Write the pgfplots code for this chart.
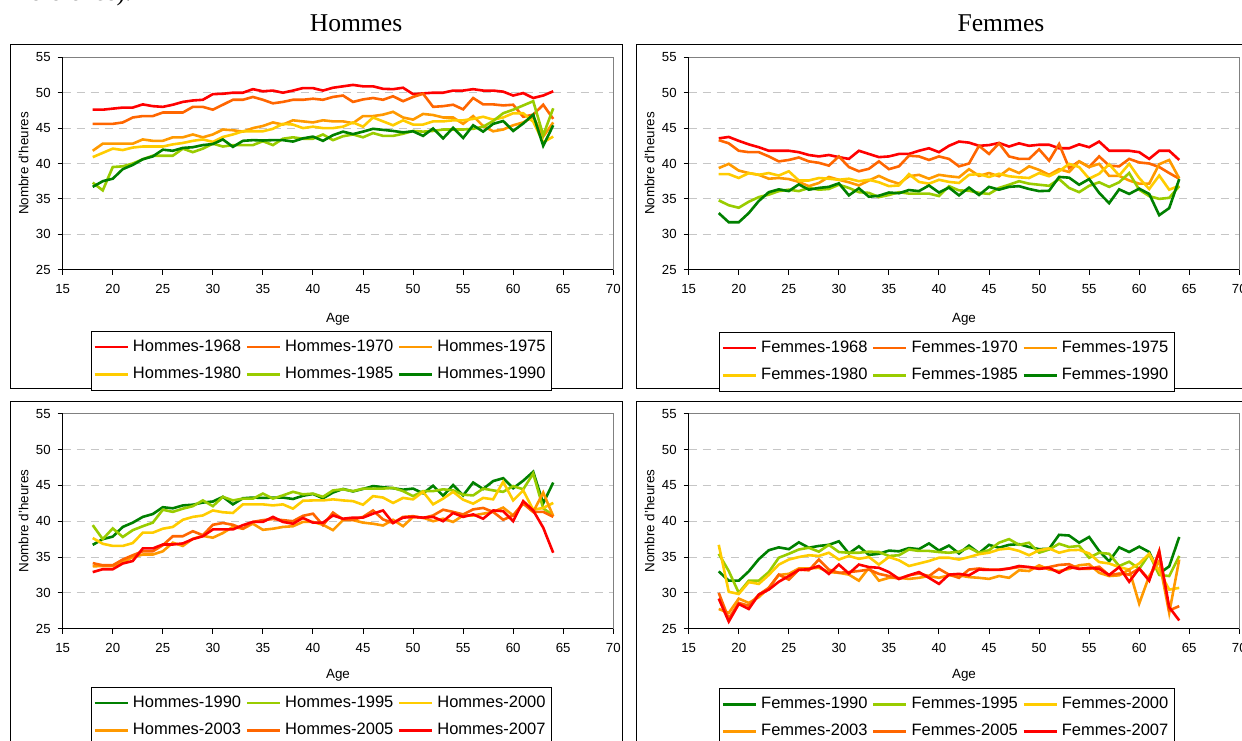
\documentclass[border=0pt]{standalone}
\usepackage{pgfplots}
\pgfplotsset{compat=1.18}
\usepackage{pgfplotstable}
\usepackage{fontspec}
\setmainfont{Liberation Sans}
\newfontfamily\seriffont{Liberation Serif}

\definecolor{cA}{HTML}{FF0000}
\definecolor{cB}{HTML}{FF6600}
\definecolor{cC}{HTML}{FF9900}
\definecolor{cD}{HTML}{FFCC00}
\definecolor{cE}{HTML}{99CC00}
\definecolor{cF}{HTML}{008000}

\pgfplotstableread{
age a68 a70 a75 a80 a85 a90
18 47.6 45.6 41.8 40.9 37.3 36.7
19 47.6 45.6 42.8 41.5 36.2 37.5
20 47.75 45.6 42.8 42.1 39.5 37.85
21 47.9 45.8 42.8 41.9 39.6 39.2
22 47.9 46.5 42.8 42.25 40.0 39.8
23 48.35 46.7 43.4 42.4 40.6 40.6
24 48.1 46.7 43.2 42.4 41.1 41.0
25 48.0 47.2 43.2 42.4 41.1 41.95
26 48.3 47.2 43.7 42.7 41.1 41.8
27 48.7 47.2 43.7 42.9 42.1 42.2
28 48.9 48.0 44.1 43.2 41.6 42.3
29 49.0 48.0 43.7 43.4 42.1 42.6
30 49.8 47.6 44.1 43.05 42.8 42.75
31 49.85 48.3 44.8 43.75 42.4 43.4
32 50.0 49.0 44.7 44.1 42.6 42.35
33 50.0 49.0 44.5 44.55 42.6 43.2
34 50.5 49.4 45.0 44.55 42.6 43.3
35 50.2 49.0 45.3 44.55 43.15 43.25
36 50.3 48.5 45.8 44.9 42.6 43.3
37 50.0 48.7 45.5 45.6 43.5 43.3
38 50.3 49.0 46.1 45.5 43.7 43.1
39 50.65 49.0 45.95 45.0 43.5 43.55
40 50.65 49.15 45.8 45.2 43.5 43.8
41 50.3 49.0 46.1 45.0 44.1 43.2
42 50.7 49.4 45.95 45.0 43.3 44.0
43 50.9 49.6 45.95 45.2 43.85 44.5
44 51.1 48.7 45.7 45.8 44.1 44.15
45 50.9 49.05 46.7 45.2 43.7 44.5
46 50.9 49.25 46.7 46.5 44.3 44.9
47 50.55 49.0 46.9 45.95 43.9 44.75
48 50.5 49.5 47.3 45.4 43.9 44.6
49 50.7 48.8 46.5 46.1 44.2 44.4
50 49.8 49.4 46.2 45.5 44.6 44.55
51 49.9 49.85 47.0 45.5 44.5 43.9
52 50.0 48.0 46.85 45.95 44.6 44.95
53 50.0 48.1 46.5 45.95 44.8 43.55
54 50.3 48.3 46.5 46.1 44.8 45.05
55 50.3 47.65 45.6 46.1 44.8 43.6
56 50.5 49.25 46.7 46.3 44.9 45.4
57 50.3 48.35 45.3 46.6 45.2 44.5
58 50.3 48.35 44.55 46.2 46.0 45.6
59 50.15 48.2 44.8 46.5 47.1 46.0
60 49.6 48.3 45.4 47.1 47.6 44.6
61 49.95 46.6 45.8 47.1 48.2 45.65
62 49.25 46.9 46.6 45.9 48.8 46.9
63 49.6 48.3 43.8 43.0 44.0 42.5
64 50.2 46.3 45.8 43.8 47.8 45.4
}\HA

\pgfplotstableread{
age a68 a70 a75 a80 a85 a90
18 43.55 43.3 39.35 38.5 34.8 33.0
19 43.75 42.85 39.95 38.5 34.1 31.7
20 43.2 41.8 39.0 37.95 33.75 31.7
21 42.7 41.6 38.65 38.65 34.6 33.0
22 42.3 41.6 38.4 38.4 35.25 34.7
23 41.8 41.0 37.85 38.65 35.6 35.95
24 41.8 40.3 37.95 38.3 36.1 36.35
25 41.8 40.5 37.8 38.9 36.3 36.1
26 41.6 40.85 37.4 37.6 36.1 37.05
27 41.2 40.3 36.8 37.6 36.55 36.3
28 41.0 40.1 37.25 37.95 36.3 36.55
29 41.2 39.7 38.1 37.85 36.4 36.7
30 40.9 41.0 37.7 37.7 37.0 37.2
31 40.65 39.5 37.35 37.85 36.55 35.5
32 41.8 38.9 36.9 37.5 35.95 36.5
33 41.35 39.25 37.6 37.7 35.85 35.3
34 40.9 40.3 38.25 37.35 35.25 35.45
35 41.0 39.2 37.6 36.8 35.55 35.9
36 41.35 39.6 37.15 36.9 35.95 35.8
37 41.35 41.1 38.2 38.5 35.75 36.25
38 41.8 41.0 38.4 37.4 35.75 36.1
39 42.15 40.5 37.85 37.15 35.75 36.9
40 41.6 41.0 38.4 37.7 35.4 35.9
41 42.5 40.65 38.2 37.4 36.8 36.6
42 43.1 39.6 38.05 37.25 36.2 35.5
43 42.95 40.0 39.2 38.4 36.15 36.6
44 42.5 42.5 38.25 38.5 35.85 35.55
45 42.6 41.35 38.65 38.1 35.7 36.7
46 42.9 42.85 38.2 38.55 36.55 36.3
47 42.4 41.0 39.25 38.2 37.0 36.7
48 42.85 40.65 38.65 38.05 37.5 36.8
49 42.5 40.65 39.6 37.95 37.15 36.4
50 42.65 42.0 39.1 38.65 37.0 36.1
51 42.65 40.4 38.4 38.2 36.85 36.15
52 42.15 42.75 39.2 38.9 37.8 38.1
53 42.15 39.35 38.8 39.95 36.55 38.0
54 42.7 40.3 40.3 39.5 35.95 37.0
55 42.3 39.5 39.5 37.85 36.85 37.8
56 43.1 41.0 39.95 38.55 37.35 35.85
57 41.8 39.7 38.25 39.9 36.7 34.4
58 41.8 39.6 38.25 38.3 37.35 36.35
59 41.8 40.65 37.6 39.95 38.65 35.7
60 41.6 40.15 37.15 37.95 36.3 36.45
61 40.65 40.0 37.15 36.4 35.4 35.7
62 41.8 39.5 39.9 38.3 35.0 32.7
63 41.8 38.65 40.5 36.3 35.15 33.7
64 40.5 37.85 37.9 36.85 36.8 37.8
}\FA

\pgfplotstableread{
age b90 b95 b00 b03 b05 b07
18 36.7 39.45 37.65 33.7 34.15 32.9
19 37.5 37.5 36.85 33.75 33.85 33.3
20 37.85 39.0 36.55 33.75 33.85 33.3
21 39.2 37.8 36.55 34.3 34.65 34.1
22 39.8 38.75 36.95 35.0 35.25 34.45
23 40.6 39.3 38.4 35.35 35.8 36.2
24 41.0 39.8 38.4 35.35 35.8 36.2
25 41.95 41.6 38.95 35.8 36.65 36.75
26 41.8 41.3 39.2 37.0 37.9 36.75
27 42.2 41.75 40.2 36.55 37.9 36.9
28 42.3 42.1 40.6 37.55 38.6 37.5
29 42.6 42.9 40.8 37.95 38.05 37.9
30 42.75 42.1 41.5 37.7 39.5 38.85
31 43.4 43.4 41.25 38.35 39.75 38.85
32 42.35 42.9 41.15 39.2 39.5 38.85
33 43.2 43.15 42.35 38.95 38.95 39.45
34 43.3 43.15 42.35 39.65 39.9 39.9
35 43.25 43.85 42.35 38.8 40.15 39.9
36 43.3 43.15 42.2 38.95 40.3 40.6
37 43.3 43.6 42.35 39.2 40.15 39.9
38 43.1 44.1 41.75 39.3 40.0 39.65
39 43.55 43.75 42.85 39.9 40.75 40.45
40 43.8 43.85 42.9 39.9 41.05 39.8
41 43.2 43.4 42.9 39.5 39.45 39.8
42 44.0 44.3 43.05 38.75 41.2 40.8
43 44.5 44.45 42.9 40.15 40.25 40.35
44 44.15 44.2 42.8 40.15 40.2 40.5
45 44.5 44.55 42.3 39.8 40.6 40.5
46 44.9 44.55 43.5 39.65 41.5 41.05
47 44.75 44.55 43.3 39.4 40.25 41.5
48 44.6 44.65 42.55 40.2 39.75 39.75
49 44.4 44.2 43.25 39.3 40.6 40.5
50 44.55 43.5 43.05 40.6 40.7 40.6
51 43.9 44.2 44.1 40.5 40.45 40.5
52 44.95 44.2 42.35 40.0 40.8 40.6
53 43.55 44.45 43.15 40.35 41.6 40.0
54 45.05 44.3 44.1 39.9 41.3 41.15
55 43.6 43.7 43.0 40.8 40.95 40.6
56 45.4 43.6 42.45 40.8 41.65 40.95
57 44.5 44.55 43.25 41.05 41.85 40.35
58 45.6 44.3 43.05 41.3 41.3 41.5
59 46.0 44.1 45.5 41.9 40.2 41.4
60 44.6 44.9 42.9 40.8 40.8 40.0
61 45.65 44.45 44.3 42.55 42.45 42.8
62 46.9 46.65 41.6 41.3 41.3 41.5
63 42.5 41.8 41.85 44.0 41.3 39.1
64 45.4 40.8 42.55 40.7 40.6 35.6
}\HB

\pgfplotstableread{
age b90 b95 b00 b03 b05 b07
18 33.0 35.45 36.7 27.75 30.0 29.2
19 31.7 33.05 30.15 27.2 26.4 26.0
20 31.7 30.0 29.85 29.2 28.6 28.45
21 33.0 31.7 31.5 28.6 28.2 27.75
22 34.7 31.7 31.25 29.4 29.75 29.75
23 35.95 32.9 32.5 30.7 30.7 30.45
24 36.35 34.9 33.95 32.5 32.55 31.55
25 36.1 35.45 34.65 32.65 31.85 32.35
26 37.05 36.05 35.0 33.4 33.25 33.2
27 36.3 36.3 35.25 33.4 33.15 33.3
28 36.55 35.75 35.15 33.5 34.65 33.75
29 36.7 36.7 35.6 32.9 33.25 32.65
30 37.2 35.7 34.65 32.8 32.8 33.95
31 35.5 35.6 35.15 32.55 32.9 32.7
32 36.5 35.6 34.75 31.7 33.05 33.95
33 35.3 35.75 35.0 33.5 33.25 33.6
34 35.45 35.7 33.95 31.7 32.65 33.5
35 35.9 35.15 35.0 32.1 32.35 32.9
36 35.8 35.25 34.55 32.1 31.95 31.95
37 36.25 36.05 33.75 31.95 32.45 32.45
38 36.1 35.85 34.1 32.1 32.7 32.9
39 36.9 35.85 34.45 32.35 32.35 32.1
40 35.9 35.7 34.9 32.1 33.35 31.25
41 36.6 35.6 34.9 32.45 32.55 32.55
42 35.5 35.75 34.65 32.45 32.1 32.65
43 36.6 36.3 35.0 32.2 33.25 32.45
44 35.55 35.6 35.4 32.1 33.4 33.25
45 36.7 35.95 35.6 31.95 33.25 33.2
46 36.3 37.0 36.05 32.35 33.25 33.2
47 36.7 37.5 36.2 32.1 33.4 33.4
48 36.8 36.7 35.85 33.15 33.6 33.75
49 36.4 37.0 35.25 33.05 33.6 33.6
50 36.1 35.6 35.95 33.85 33.4 33.35
51 36.15 36.05 36.2 33.25 33.6 33.5
52 38.1 36.85 35.6 33.05 33.9 32.8
53 38.0 36.4 35.95 33.35 34.0 33.6
54 37.0 36.55 36.0 33.85 33.35 33.35
55 37.8 34.9 35.5 34.0 33.35 33.5
56 35.85 35.6 34.3 32.8 33.65 33.35
57 34.4 35.45 34.1 32.35 32.45 32.5
58 36.35 33.75 33.6 32.45 32.7 33.6
59 35.7 34.35 33.25 33.25 32.55 31.55
60 36.45 33.35 34.1 28.5 33.4 33.4
61 35.7 35.4 35.45 32.35 31.85 31.7
62 32.7 32.5 33.05 34.45 35.85 35.75
63 33.7 32.35 30.45 27.2 27.55 28.0
64 37.8 35.15 30.7 34.65 28.15 26.15
}\FB

\pgfplotsset{
  panel/.style={
    scale only axis,
    width=275.3pt,
    xmin=15, xmax=70, ymin=25, ymax=55,
    xtick={15,20,...,70}, ytick={25,30,...,55},
    axis x line*=bottom, axis y line*=left,
    axis line style={black, line width=0.6pt},
    tick align=outside, major tick length=2.5pt,
    tick style={black, line width=0.5pt},
    ymajorgrids,
    grid style={gray!45, line width=0.5pt, dash pattern=on 4pt off 3pt},
    /pgf/number format/assume math mode=true,
    ticklabel style={font=\fontsize{6.6}{7}\selectfont},
    xticklabel style={yshift=-1.2pt},
    xlabel={Age}, ylabel={Nombre d'heures},
    label style={font=\fontsize{6.7}{8}\selectfont},
    ylabel style={at={(axis description cs:-0.0712,0.5)}, anchor=center},
    legend columns=3,
    legend cell align=left,
    legend image code/.code={\draw[#1] (0pt,0pt) -- (16.5pt,0pt);},
    legend style={font=\fontsize{8.25}{10}\selectfont, draw=black, line width=0.5pt,
      anchor=north, inner xsep=1pt, inner ysep=2.2pt, row sep=2.4pt,
      /tikz/every even column/.append style={column sep=0.2pt}},
    after end axis/.code={\draw[gray, line width=0.5pt] (rel axis cs:0,1) -- (rel axis cs:1,1) -- (rel axis cs:1,0);},
  },
  ln/.style={line width=1.3pt, mark=none},
}

\begin{document}
\begin{tikzpicture}
\path[use as bounding box] (0pt,0pt) rectangle (621pt,370pt);

% frames
\draw[line width=0.6pt] (5.35pt,175.7pt) rectangle (311.15pt,347.65pt);
\draw[line width=0.6pt] (318.35pt,175.7pt) rectangle (630pt,347.65pt);
\draw[line width=0.6pt] (5.35pt,-10pt) rectangle (311.15pt,169.35pt);
\draw[line width=0.6pt] (318.35pt,-10pt) rectangle (630pt,169.35pt);

% titles
\node[anchor=base west, inner sep=0pt, font=\seriffont\fontsize{12.8}{14}\selectfont] at (10.5pt,369.6pt) {référence).};
\node[anchor=base, inner sep=0pt, font=\seriffont\fontsize{12.8}{14}\selectfont] at (178pt,354.15pt) {Hommes};
\node[anchor=base, inner sep=0pt, font=\seriffont\fontsize{12.8}{14}\selectfont] at (500.5pt,354.15pt) {Femmes};

% top-left
\begin{axis}[panel, height=106.2pt, at={(31.35pt,235.15pt)}, anchor=south west,
  xlabel style={at={(axis description cs:0.5,-0.235)}, anchor=center},
  legend style={at={(0.470,-0.2886)}}]
\addplot[ln, cA] table[x=age,y=a68]{\HA}; \addlegendentry{Hommes-1968}
\addplot[ln, cB] table[x=age,y=a70]{\HA}; \addlegendentry{Hommes-1970}
\addplot[ln, cC] table[x=age,y=a75]{\HA}; \addlegendentry{Hommes-1975}
\addplot[ln, cD] table[x=age,y=a80]{\HA}; \addlegendentry{Hommes-1980}
\addplot[ln, cE] table[x=age,y=a85]{\HA}; \addlegendentry{Hommes-1985}
\addplot[ln, cF] table[x=age,y=a90]{\HA}; \addlegendentry{Hommes-1990}
\end{axis}

% top-right
\begin{axis}[panel, height=106.2pt, at={(344.35pt,235.15pt)}, anchor=south west,
  xlabel style={at={(axis description cs:0.5,-0.235)}, anchor=center},
  legend style={at={(0.469,-0.2933)}}]
\addplot[ln, cA] table[x=age,y=a68]{\FA}; \addlegendentry{Femmes-1968}
\addplot[ln, cB] table[x=age,y=a70]{\FA}; \addlegendentry{Femmes-1970}
\addplot[ln, cC] table[x=age,y=a75]{\FA}; \addlegendentry{Femmes-1975}
\addplot[ln, cD] table[x=age,y=a80]{\FA}; \addlegendentry{Femmes-1980}
\addplot[ln, cE] table[x=age,y=a85]{\FA}; \addlegendentry{Femmes-1985}
\addplot[ln, cF] table[x=age,y=a90]{\FA}; \addlegendentry{Femmes-1990}
\end{axis}

% bottom-left
\begin{axis}[panel, height=107.5pt, at={(31.35pt,55.65pt)}, anchor=south west,
  xlabel style={at={(axis description cs:0.5,-0.215)}, anchor=center},
  legend style={at={(0.470,-0.271)}}]
\addplot[ln, cF] table[x=age,y=b90]{\HB}; \addlegendentry{Hommes-1990}
\addplot[ln, cE] table[x=age,y=b95]{\HB}; \addlegendentry{Hommes-1995}
\addplot[ln, cD] table[x=age,y=b00]{\HB}; \addlegendentry{Hommes-2000}
\addplot[ln, cC] table[x=age,y=b03]{\HB}; \addlegendentry{Hommes-2003}
\addplot[ln, cB] table[x=age,y=b05]{\HB}; \addlegendentry{Hommes-2005}
\addplot[ln, cA] table[x=age,y=b07]{\HB}; \addlegendentry{Hommes-2007}
\end{axis}

% bottom-right
\begin{axis}[panel, height=107.5pt, at={(344.35pt,55.65pt)}, anchor=south west,
  xlabel style={at={(axis description cs:0.5,-0.215)}, anchor=center},
  legend style={at={(0.469,-0.276)}}]
\addplot[ln, cF] table[x=age,y=b90]{\FB}; \addlegendentry{Femmes-1990}
\addplot[ln, cE] table[x=age,y=b95]{\FB}; \addlegendentry{Femmes-1995}
\addplot[ln, cD] table[x=age,y=b00]{\FB}; \addlegendentry{Femmes-2000}
\addplot[ln, cC] table[x=age,y=b03]{\FB}; \addlegendentry{Femmes-2003}
\addplot[ln, cB] table[x=age,y=b05]{\FB}; \addlegendentry{Femmes-2005}
\addplot[ln, cA] table[x=age,y=b07]{\FB}; \addlegendentry{Femmes-2007}
\end{axis}
\end{tikzpicture}
\end{document}
